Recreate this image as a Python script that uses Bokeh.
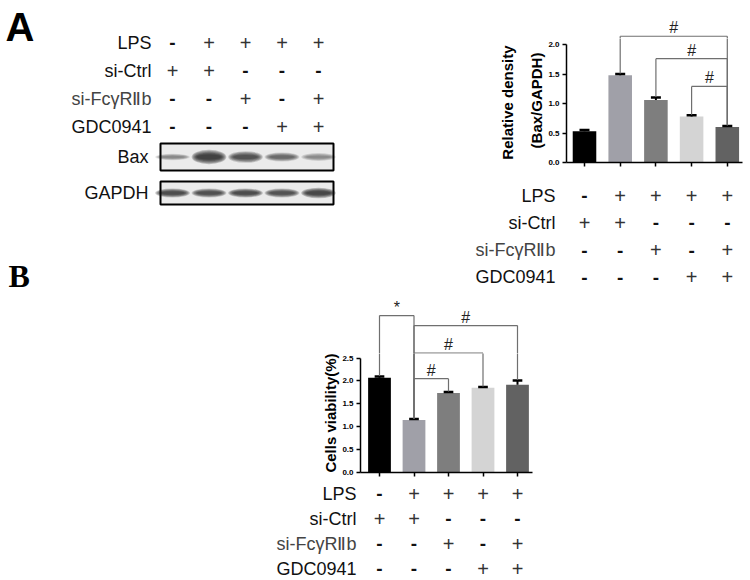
from bokeh.plotting import figure
from bokeh.layouts import row, column
from bokeh.models import Spacer, Range1d, FixedTicker, PrintfTickFormatter
from bokeh.core.properties import value
from bokeh.embed import file_html
from bokeh.resources import INLINE

# ---------------- data ----------------
lanes = [0, 1, 2, 3, 4]
treatments = ["LPS", "si-Ctrl", "si-FcγRⅡb", "GDC0941"]
lps = ["-", "+", "+", "+", "+"]
si_ctrl = ["+", "+", "-", "-", "-"]
si_fc = ["-", "-", "+", "-", "+"]
gdc = ["-", "-", "-", "+", "+"]
treat_rows = [lps, si_ctrl, si_fc, gdc]

bax_mean = [0.53, 1.48, 1.06, 0.78, 0.60]
bax_sem = [0.02, 0.02, 0.04, 0.02, 0.02]
via_mean = [2.07, 1.15, 1.74, 1.85, 1.92]
via_sem = [0.03, 0.02, 0.02, 0.02, 0.09]
bar_colors = ["#000000", "#a0a0a8", "#7e7e7e", "#d4d4d4", "#626262"]

blot_labels = ["Bax", "GAPDH"]
bax_band = [0.42, 1.0, 0.8, 0.6, 0.4]
bax_band_h = [5, 11, 9, 7, 6]
gapdh_band = [0.85, 0.82, 0.85, 0.8, 0.95]
gapdh_band_h = [7, 7, 7, 7, 8]

a_yticks = [0.0, 0.5, 1.0, 1.5, 2.0]
b_yticks = [0.0, 0.5, 1.0, 1.5, 2.0, 2.5]
a_cmp_left = [1, 2, 3]
a_cmp_right = [4, 4, 4]
a_cmp_level = [2.14, 1.76, 1.29]
a_cmp_mark = ["#", "#", "#"]
b_cmp_left = [0, 1, 1, 1]
b_cmp_right = [1, 4, 3, 2]
b_cmp_level = [3.43, 3.21, 2.61, 2.05]
b_cmp_mark = ["*", "#", "#", "#"]

FONT = "Liberation Sans"


def xr(ppu, px0, lo, hi):
    return Range1d(start=(lo - px0) / ppu, end=(hi - px0) / ppu)


def yr_up(ppu, px0, top, bottom):
    return Range1d(start=(px0 - bottom) / ppu, end=(px0 - top) / ppu)


def yr_rows(gap, px0, top, bottom):
    return Range1d(start=(bottom - px0) / gap, end=(top - px0) / gap)


def base_fig(w, h, x_range, y_range, left=0, right=0, top=0, bottom=0, axes=False):
    p = figure(width=w, height=h, x_range=x_range, y_range=y_range,
               output_backend="svg", toolbar_location=None,
               x_axis_location="below" if axes else None,
               y_axis_location="left" if axes else None,
               min_border_left=left, min_border_right=right,
               min_border_top=top, min_border_bottom=bottom)
    p.frame_align = False
    p.outline_line_color = None
    p.grid.visible = False
    p.background_fill_color = "white"
    p.border_fill_color = "white"
    return p


def draw_table(p, label_x, size="18px"):
    p.text(x=[label_x] * 4, y=list(range(4)), text=treatments,
           text_align="right", text_baseline="middle",
           text_font=value(FONT), text_font_size=size,
           text_color=["#111111", "#111111", "#444444", "#111111"])
    px, py, mx, my = [], [], [], []
    for r, vals in enumerate(treat_rows):
        for i, s in zip(lanes, vals):
            if s == "+":
                px.append(i); py.append(r)
            else:
                mx.append(i); my.append(r)
    p.text(x=px, y=py, text=["+"] * len(px), text_align="center",
           text_baseline="middle", text_font=value(FONT), text_font_size="20px",
           text_color="#333333")
    p.text(x=mx, y=my, text=["-"] * len(mx), text_align="center",
           text_baseline="middle", text_font=value(FONT), text_font_size="19px",
           text_font_style="bold", text_color="#111111")


def draw_brackets(p, means, sems, left, right, level, marks):
    top = [m + s for m, s in zip(means, sems)]
    x0, y0, x1, y1 = [], [], [], []
    for l, r, lv in zip(left, right, level):
        x0 += [l, l, r]; x1 += [r, l, r]
        y0 += [lv, lv, lv]; y1 += [lv, top[l] + 0.01, top[r] + 0.01]
    p.segment(x0=x0, y0=y0, x1=x1, y1=y1, line_color="#6f6f6f", line_width=1.2)
    lo, hi = p.y_range.start, p.y_range.end
    keep = [k for k, lv in enumerate(level) if lo <= lv < hi]
    p.text(x=[(left[k] + right[k]) / 2 for k in keep], y=[level[k] for k in keep],
           text=[marks[k] for k in keep],
           text_align="center", text_baseline="bottom",
           text_font=value(FONT), text_font_size="16px", text_color="#222222")


def draw_bars(p, means, sems, cap):
    p.vbar(x=lanes, top=means, bottom=0, width=0.66, fill_color=bar_colors,
           line_color=None)
    up = [m + s for m, s in zip(means, sems)]
    p.segment(x0=lanes, y0=means, x1=lanes, y1=up, line_color="black", line_width=2)
    p.segment(x0=[i - cap for i in lanes], y0=up, x1=[i + cap for i in lanes], y1=up,
              line_color="black", line_width=2.5)


def style_axes(p, yticks, label, bounds):
    p.xaxis.ticker = FixedTicker(ticks=lanes)
    p.xaxis.major_label_overrides = {i: "" for i in lanes}
    p.xaxis.major_label_standoff = 0
    p.xaxis.major_tick_out = 4
    p.xaxis.major_tick_in = 0
    p.xaxis.minor_tick_out = 0
    p.xaxis.minor_tick_in = 0
    p.yaxis.ticker = FixedTicker(ticks=yticks)
    p.yaxis.bounds = bounds
    p.yaxis.formatter = PrintfTickFormatter(format="%.1f")
    p.yaxis.major_label_text_font_size = "8px"
    p.yaxis.major_label_text_font_style = "bold"
    p.yaxis.major_label_text_font = FONT
    p.yaxis.major_label_text_color = "black"
    p.yaxis.major_label_standoff = 3
    p.yaxis.major_tick_out = 4
    p.yaxis.major_tick_in = 0
    p.yaxis.minor_tick_out = 0
    p.yaxis.minor_tick_in = 0
    for ax in (p.xaxis, p.yaxis):
        ax.axis_line_width = 1.5
        ax.major_tick_line_width = 1.5
        ax.axis_line_color = "black"
        ax.major_tick_line_color = "black"
    p.yaxis.axis_label = label
    p.yaxis.axis_label_text_font = FONT
    p.yaxis.axis_label_text_font_style = "bold"
    p.yaxis.axis_label_text_font_size = "15px"
    p.yaxis.axis_label_text_color = "black"
    p.yaxis.axis_label_standoff = 0


# ---------------- Panel A left: labels + western blot ----------------
LW, TH = 378, 296
f1 = base_fig(LW, TH, xr(36.5, 172, 0, 378), yr_rows(28, 42, 0, TH))
draw_table(f1, (151 - 172) / 36.5)
f1.text(x=[(5 - 172) / 36.5], y=[(26 - 42) / 28], text=["A"],
        text_align="left", text_baseline="middle", text_font=value(FONT),
        text_font_size="40px", text_font_style="bold", text_color="black")
f1.text(x=[(8 - 172) / 36.5], y=[(275 - 42) / 28], text=["B"],
        text_align="left", text_baseline="middle",
        text_font=value("Liberation Serif"), text_font_size="32px",
        text_font_style="bold", text_color="black")
box_l, box_r = (160 - 172) / 36.5, (333 - 172) / 36.5
box_rows = [((143 - 42) / 28, (170 - 42) / 28), ((181 - 42) / 28, (204 - 42) / 28)]
f1.quad(left=[box_l, box_l], right=[box_r, box_r],
        top=[b[0] for b in box_rows], bottom=[b[1] for b in box_rows],
        fill_color="#ebebeb", line_color="black", line_width=2)
f1.text(x=[(148 - 172) / 36.5] * 2, y=[(b[0] + b[1]) / 2 for b in box_rows],
        text=blot_labels, text_align="right", text_baseline="middle",
        text_font=value(FONT), text_font_size="18px", text_color="#111111")
ex, ey, ew, eh, ea = [], [], [], [], []
for (top_r, bot_r), inten, hts in zip(box_rows, [bax_band, gapdh_band], [bax_band_h, gapdh_band_h]):
    cy = (top_r + bot_r) / 2
    for i, v, h in zip(lanes, inten, hts):
        for k in range(6):
            s = 1 - 0.13 * k
            ex.append(i); ey.append(cy)
            ew.append(0.95 * (1 - 0.06 * k)); eh.append(h / 28 * s * 1.3)
            ea.append(0.22 * v)
f1.ellipse(x=ex, y=ey, width=ew, height=eh, fill_color="#111111",
           fill_alpha=ea, line_color=None)

# ---------------- Panel A right: bar chart ----------------
RW = 372
A_PPU, A_X0, A_Y0 = 35.7, 584, 162
ax_range = xr(A_PPU, A_X0, 566, 742)
fa_top = base_fig(RW, 38, ax_range, yr_up(59, A_Y0, 0, 38), left=188, right=8)
fa_bar = base_fig(RW, 144, ax_range, yr_up(59, A_Y0, 38, 162), left=188, right=8,
                  bottom=20, axes=True)
draw_bars(fa_bar, bax_mean, bax_sem, 0.14)
for p in (fa_top, fa_bar):
    draw_brackets(p, bax_mean, bax_sem, a_cmp_left, a_cmp_right, a_cmp_level, a_cmp_mark)
style_axes(fa_bar, a_yticks, "Relative  density\n(Bax/GAPDH)", (0, 2.0))
fa_bar.yaxis.axis_label_text_line_height = 1.7

fa_tab = base_fig(RW, TH - 182, xr(A_PPU, A_X0, 378, 750), yr_rows(27.3, 195, 182, TH))
draw_table(fa_tab, (555 - A_X0) / A_PPU)

# ---------------- Panel B ----------------
B_PPU, B_X0, B_Y0, B_YPPU = 34.5, 379, 472, 45.76
BW = 550
SPLIT = 353
bx_range = xr(B_PPU, B_X0, 360, 532)
fb_top = base_fig(BW, SPLIT - TH, bx_range, yr_up(B_YPPU, B_Y0, TH, SPLIT), left=160, right=218)
fb_bar = base_fig(BW, 482 - SPLIT, bx_range, yr_up(B_YPPU, B_Y0, SPLIT, 472), left=160, right=218,
                  bottom=10, axes=True)
draw_bars(fb_bar, via_mean, via_sem, 0.14)
for p in (fb_top, fb_bar):
    draw_brackets(p, via_mean, via_sem, b_cmp_left, b_cmp_right, b_cmp_level, b_cmp_mark)
style_axes(fb_bar, b_yticks, "Cells viability(%)", (0, 2.5))

fb_tab = base_fig(BW, 98, xr(B_PPU, B_X0, 200, 750), yr_rows(25, 493, 482, 580))
draw_table(fb_tab, (356 - B_X0) / B_PPU)

layout = column(
    row(f1, column(fa_top, fa_bar, fa_tab)),
    row(Spacer(width=200, height=580 - TH), column(fb_top, fb_bar, fb_tab)),
)

open("out.html", "w").write(file_html(layout, INLINE))
